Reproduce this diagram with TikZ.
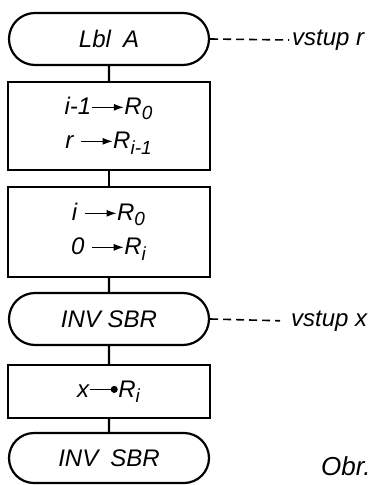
\documentclass[tikz,border=0pt]{standalone}
\usepackage{fontspec}
\setmainfont{Liberation Sans}
\usetikzlibrary{shapes.misc,arrows.meta}

% assignment arrows used inside the boxes
\newcommand{\asg}{\tikz[baseline=-0.6ex]\draw[line width=0.6pt,-{Latex[length=5pt,width=3.5pt]}] (0,0) -- (16pt,0);}
\newcommand{\asgdot}{\tikz[baseline=-0.6ex]\draw[line width=0.6pt,-{Circle[length=3.5pt]}] (0,0) -- (14pt,0);}
\newcommand{\sub}[1]{\textsubscript{\fontsize{9.5}{10}\selectfont #1}}

\tikzset{
  term/.style={draw, rounded rectangle, minimum width=100pt, minimum height=26pt, inner sep=0pt},
  opbox/.style={draw, rectangle, minimum width=101pt, inner sep=0pt, align=center},
  note/.style={anchor=west, inner sep=1pt},
  input/.style={dash pattern=on 4pt off 2.5pt, line width=0.8pt},
}

\begin{document}
\begin{tikzpicture}[x=0.5pt,y=-0.5pt,line width=1.1pt,font=\fontsize{12}{17}\selectfont\itshape]
\useasboundingbox (0,0) rectangle (374,485);
\node[term] (lbl) at (109,39) {Lbl\enspace A};
\node[opbox, minimum height=44pt] (set1) at (109,126) {i-1\asg R\sub{0}\\ r \asg R\sub{i-1}};
\node[opbox, minimum height=45pt] (set2) at (109,232) {i \asg R\sub{0}\\ 0 \asg R\sub{i}};
\node[term] (inv1) at (109,319) {INV SBR};
\node[opbox, minimum height=26.5pt] (set3) at (109,391.5) {x\asgdot R\sub{i}};
\node[term, minimum height=25pt] (inv2) at (109,458) {INV\enspace SBR};
% flow lines
\draw (lbl) -- (set1);
\draw (set1) -- (set2);
\draw (set2) -- (inv1);
\draw (inv1) -- (set3);
\draw (set3) -- (inv2);
% inputs
\node[note] (inr) at (289,40) {vstup r};
\node[note] (inx) at (288,321) {vstup x};
\draw[input] (lbl.east) -- (inr.west);
\draw[input, shorten >=4pt] (inv1.east) -- (inx.west);
\node[note, font=\fontsize{13}{15}\selectfont\itshape] (obr) at (318,466) {Obr.};
\end{tikzpicture}
\end{document}
